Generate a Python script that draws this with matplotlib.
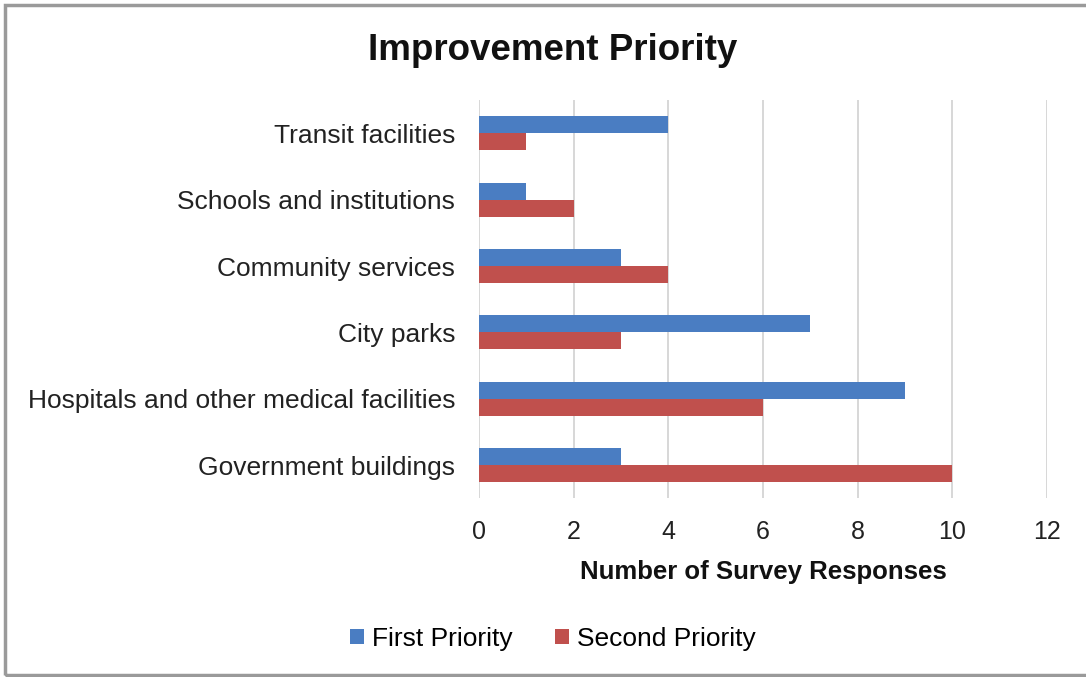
import matplotlib
matplotlib.use("Agg")
import matplotlib.pyplot as plt
from matplotlib.patches import Rectangle
import numpy as np

categories = ["Transit facilities", "Schools and institutions", "Community services",
              "City parks", "Hospitals and other medical facilities", "Government buildings"]
first_priority = [4, 1, 3, 7, 9, 3]
second_priority = [1, 2, 4, 3, 6, 10]
xticks = [0, 2, 4, 6, 8, 10, 12]

plt.rcParams['font.family'] = ['Liberation Sans', 'DejaVu Sans']

fig = plt.figure(figsize=(10.86, 6.77), dpi=100)
ax = fig.add_axes([0.441, 0.264, 0.523, 0.588])

blue = "#4A7DC2"
red = "#C0504D"
n = len(categories)
y = np.arange(n)[::-1].astype(float)
h = 0.256
ax.barh(y + h / 2, first_priority, height=h, color=blue, label="First Priority", zorder=3)
ax.barh(y - h / 2, second_priority, height=h, color=red, label="Second Priority", zorder=3)

ax.set_xlim(0, 12)
ax.set_ylim(-0.5, n - 0.5)
ax.set_xticks(xticks)
ax.set_xticklabels([str(t) for t in xticks], fontsize=18, color="#222222")
ax.set_yticks(y)
ax.set_yticklabels(categories, fontsize=19, color="#222222")
ax.tick_params(axis='both', length=0)
ax.tick_params(axis='x', pad=16)
ax.tick_params(axis='y', pad=17)
ax.grid(axis='x', color="#D4D4D4", linewidth=1.3, zorder=0)
for s in ax.spines.values():
    s.set_visible(False)

ax.set_xlabel("Number of Survey Responses", fontsize=18.5, fontweight='bold', labelpad=11,
              color="#111111")

fig.text(0.509, 0.926, "Improvement Priority", fontsize=26.5, fontweight='bold',
         ha='center', va='center', color="#111111")

fig.legend(loc='center', bbox_to_anchor=(0.509, 0.056), ncol=2, frameon=False,
           fontsize=19, handlelength=0.55, handleheight=0.5, handletextpad=0.3,
           columnspacing=1.6)

fig.patches.append(Rectangle((0.005, 0.003), 1.2, 0.99, transform=fig.transFigure,
                             fill=False, edgecolor="#9A9A9A", linewidth=2.5))

fig.savefig("out.png", dpi=100)
